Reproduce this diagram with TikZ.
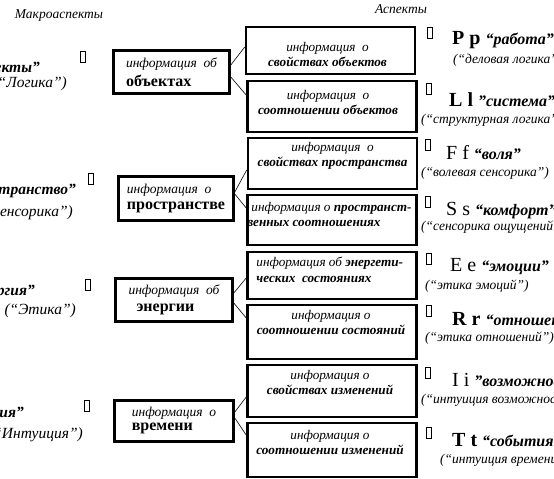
\documentclass[tikz,border=0pt]{standalone}
\usepackage{fontspec}
\setmainfont{Liberation Serif}
\usetikzlibrary{positioning}
\newcommand{\fsz}[2][1.2]{\fontsize{#2}{#1\dimexpr #2pt\relax}\selectfont}

\begin{document}
\begin{tikzpicture}[x=1pt,y=-1pt,
    macro/.style={draw, line width=2.6pt, align=left, inner sep=0pt},
    aspect/.style={draw, line width=2.6pt, minimum width=169pt, inner sep=0pt},
    boxtext/.style={inner sep=0pt, align=center, font=\fontsize{13.2}{15.8}\selectfont\itshape},
    tofu/.style={draw, line width=0.5pt, minimum width=5pt, minimum height=11pt, inner sep=0pt},
    aspname/.style={anchor=west, inner sep=0pt},
    aspnote/.style={anchor=west, inner sep=0pt, font=\fsz{13.5}\itshape},
    macname/.style={anchor=east, inner sep=0pt, font=\fsz{15.5}\itshape},
    link/.style={line width=0.6pt}]
  \useasboundingbox (0,0) rectangle (554,479);
  \clip (0,0) rectangle (554,479);

  % headings
  \node[font=\fsz{13.5}\itshape] (hmacro) at (59,16) {Макроаспекты};
  \node[font=\fsz{13.5}\itshape] (hasp) at (401,9) {Аспекты};

  % macroaspects
  \node[macro, minimum width=116pt, minimum height=43pt] (m1) at (171.5,72)
    {\fsz{13.5}\itshape информация~~об\\[4pt]\fsz{16}\bfseries объектах};
  \node[macro, minimum width=115pt, minimum height=44pt] (m2) at (176,198.5)
    {\fsz{13.5}\itshape информация~~о\\[4pt]\fsz{16}\bfseries пространстве};
  \node[macro, minimum width=117pt, minimum height=43pt] (m3) at (174,300)
    {\fsz{13.5}\itshape информация~~об\\[5pt]\fsz{16}\bfseries\enspace энергии};
  \node[macro, minimum width=119pt, minimum height=41pt] (m4) at (174,421)
    {\fsz{13.5}\itshape информация~~о\\[2pt]\fsz{16}\bfseries времени};

  \node[macname, font=\fsz{15.5}\bfseries\itshape] (l1a) at (40,67) {“Объекты”};
  \node[macname] (l1b) at (67,84) {(“Логика”)};
  \node[macname, font=\fsz{15.5}\bfseries\itshape] (l2a) at (76,191) {“Пространство”};
  \node[macname] (l2b) at (73,213) {(“Сенсорика”)};
  \node[macname, font=\fsz{15.5}\bfseries\itshape] (l3a) at (35,292) {“Энергия”};
  \node[macname] (l3b) at (76,311) {(“Этика”)};
  \node[macname, font=\fsz{15.5}\bfseries\itshape] (l4a) at (24,412) {“Изменения”};
  \node[macname] (l4b) at (83,435) {(“Интуиция”)};

  \node[tofu] (g1) at (83,57) {};
  \node[tofu] (g2) at (91,179) {};
  \node[tofu] (g3) at (88,285) {};
  \node[tofu] (g4) at (87,406) {};

  % aspects
  \node[aspect, minimum height=47pt] (a1) at (330.5,50.5) {};
  \node[aspect, minimum height=51pt] (a2) at (332,106.5) {};
  \node[aspect, minimum height=51pt] (a3) at (332.5,163.5) {};
  \node[aspect, minimum height=50pt] (a4) at (332,220) {};
  \node[aspect, minimum height=47pt] (a5) at (332,275.5) {};
  \node[aspect, minimum height=54pt] (a6) at (332,332) {};
  \node[aspect, minimum height=52pt] (a7) at (332,391) {};
  \node[aspect, minimum height=54pt] (a8) at (332,450) {};

  \node[boxtext, below=16pt of a1.north, xshift=-3pt] (t1)
    {информация~~о\\\bfseries свойствах объектов};
  \node[boxtext, below=10pt of a2.north, xshift=-4pt] (t2)
    {информация~~о\\\bfseries соотношении объектов};
  \node[boxtext, below=5pt of a3.north] (t3)
    {информация~~о\\\bfseries свойствах пространства};
  \node[boxtext, align=left, anchor=north west] (t4) at ([xshift=1pt,yshift=-8pt]a4.north west)
    {\hspace{4pt}информация о \bfseries пространст-\\\bfseries венных соотношениях};
  \node[boxtext, align=left, anchor=north west] (t5) at ([xshift=10pt,yshift=-6pt]a5.north west)
    {информация об \bfseries энергети-\\\bfseries ческих~~состояниях};
  \node[boxtext, below=6pt of a6.north, xshift=-1pt] (t6)
    {информация о\\\bfseries соотношении состояний};
  \node[boxtext, below=6pt of a7.north, xshift=-2pt] (t7)
    {информация о\\\bfseries свойствах изменений};
  \node[boxtext, below=8pt of a8.north, xshift=-2pt] (t8)
    {информация о\\\bfseries соотношении изменений};

  % links
  \draw[link] ([yshift=7pt]m1.east) -- ([yshift=3.5pt]a1.west);
  \draw[link] ([yshift=-5pt]m1.east) -- ([yshift=11.5pt]a2.west);
  \draw[link] ([yshift=6.5pt]m2.east) -- ([yshift=-6.5pt]a3.west);
  \draw[link] ([yshift=4.5pt]m2.east) -- ([yshift=12pt]a4.west);
  \draw[link] ([yshift=7pt]m3.east) -- ([yshift=-2.5pt]a5.west);
  \draw[link] ([yshift=-3pt]m3.east) -- ([yshift=14pt]a6.west);
  \draw[link] ([yshift=9pt]m4.east) -- ([yshift=-6pt]a7.west);
  \draw[link] ([yshift=3pt]m4.east) -- ([yshift=15pt]a8.west);

  % aspect names
  \node[tofu] (h1) at (430,33) {};
  \node[tofu] (h2) at (429,89) {};
  \node[tofu] (h3) at (428,145) {};
  \node[tofu] (h4) at (428,202) {};
  \node[tofu] (h5) at (429,259) {};
  \node[tofu] (h6) at (429,311) {};
  \node[tofu] (h7) at (428,373) {};
  \node[tofu] (h8) at (429,433) {};

  \node[aspname] (n1) at (452,40) {\fsz{20}\bfseries P p \fsz{16}\itshape “работа”};
  \node[aspname] (n2) at (449,100) {\fsz{20}\bfseries L l \fsz{16}\itshape ”система”};
  \node[aspname] (n3) at (446,153) {\fsz{20}F f \fsz{16}\bfseries\itshape “воля”};
  \node[aspname] (n4) at (446,211) {\fsz{20}S s \fsz{16}\bfseries\itshape “комфорт”};
  \node[aspname] (n5) at (450,267) {\fsz{20}E e \fsz{16}\bfseries\itshape “эмоции”};
  \node[aspname] (n6) at (452,319) {\fsz{20}\bfseries R r \fsz{16}\itshape “отношения”};
  \node[aspname] (n7) at (452,380) {\fsz{20}I i \fsz{16}\bfseries\itshape ”возможности”};
  \node[aspname] (n8) at (452,440) {\fsz{20}\bfseries T t \fsz{16}\itshape “события”};

  \node[aspnote] (d1) at (453,60) {(“деловая логика”)};
  \node[aspnote] (d2) at (421,120) {(“структурная логика”)};
  \node[aspnote] (d3) at (421,173) {(“волевая сенсорика”)};
  \node[aspnote] (d4) at (421,227) {(“сенсорика ощущений”)};
  \node[aspnote] (d5) at (425,286) {(“этика эмоций”)};
  \node[aspnote] (d6) at (425,338) {(“этика отношений”)};
  \node[aspnote] (d7) at (421,400) {(“интуиция возможностей”)};
  \node[aspnote] (d8) at (440,460) {(“интуиция времени”)};
\end{tikzpicture}
\end{document}
